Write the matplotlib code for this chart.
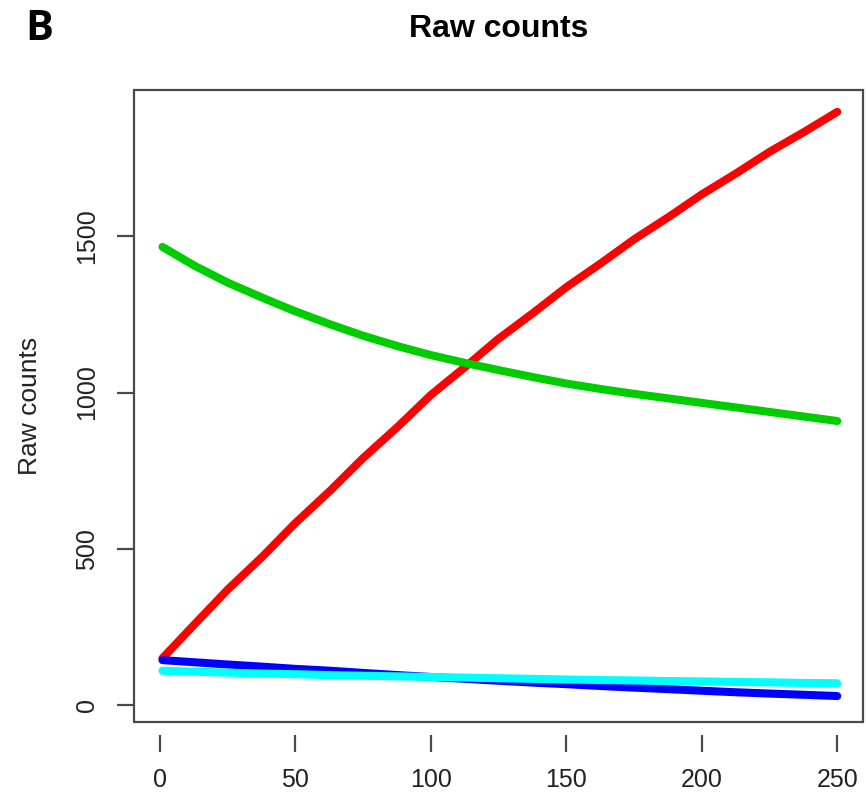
import matplotlib
matplotlib.use("Agg")
from matplotlib import pyplot as plt, patches

# values
x = [1, 13, 25, 38, 50, 63, 75, 88, 100, 113, 125, 138, 150, 163, 175, 188, 200, 213, 225, 238, 250]
red = [150, 260, 369, 476, 582, 687, 790, 892, 992, 1084, 1172, 1256, 1337, 1415, 1490, 1563,
       1634, 1703, 1770, 1835, 1898]
green = [1466, 1405, 1352, 1303, 1260, 1218, 1182, 1148, 1120, 1094, 1072, 1049, 1029, 1011, 996,
         981, 967, 952, 938, 923, 909]
blue = [144, 137, 130, 123, 116, 110, 103, 96, 90, 84, 78, 72, 67, 61, 56, 51, 46, 41, 37, 33, 29]
cyan = [110, 107, 104, 101, 99, 96, 94, 92, 90, 88, 86, 84, 82, 80, 79, 77, 76, 74, 73, 71, 70]

xticks = [0, 50, 100, 150, 200, 250]
yticks = [0, 500, 1000, 1500]

plt.rcParams['font.family'] = ['Liberation Sans', 'DejaVu Sans']

W, H = 866, 792
fig = plt.figure(figsize=(W / 100, H / 100), dpi=100)
ax = fig.add_axes([134 / W, 1 - 722 / H, (863 - 134) / W, (722 - 90) / H])

lw = 5.8
ax.plot(x, red, color='#ff0000', lw=lw, solid_capstyle='round')
ax.plot(x, green, color='#00cd00', lw=lw, solid_capstyle='round')
ax.plot(x, blue, color='#0000ff', lw=lw, solid_capstyle='round')
ax.plot(x, cyan, color='#00ffff', lw=lw, solid_capstyle='round')

ax.set_xlim(-9.5, 259.5)
ax.set_ylim(-54, 1968)

# R-style box plus detached x axis
for s in ax.spines.values():
    s.set_visible(False)
ax.spines['bottom'].set_position(('outward', 9))
ax.add_patch(patches.Rectangle((0, 0), 1, 1, transform=ax.transAxes, fill=False,
                               edgecolor='#4a4a4a', lw=1.6, clip_on=False, zorder=5))

ax.set_xticks(xticks)
ax.set_yticks(yticks)
ax.set_xticklabels([str(v) for v in xticks])
ax.set_yticklabels([str(v) for v in yticks], rotation=90, va='center')
ax.tick_params(axis='both', length=12, width=1.6, color='#4a4a4a', labelsize=18,
               labelcolor='#222222')
ax.tick_params(axis='x', pad=12)
ax.tick_params(axis='y', pad=13)

ax.set_ylabel('Raw counts', fontsize=19, color='#222222')
ax.yaxis.set_label_coords((30 - 134) / (863 - 134), 0.5)
ax.yaxis.label.set_va('center')

ax.set_title('Raw counts', fontsize=23, fontweight='bold', pad=38)
fig.text(25 / W, 1 - 40 / H, 'B', fontsize=30, fontweight='bold',
         family=['Open Sans', 'DejaVu Sans'], va='baseline', ha='left')

fig.savefig('out.png', dpi=100)
